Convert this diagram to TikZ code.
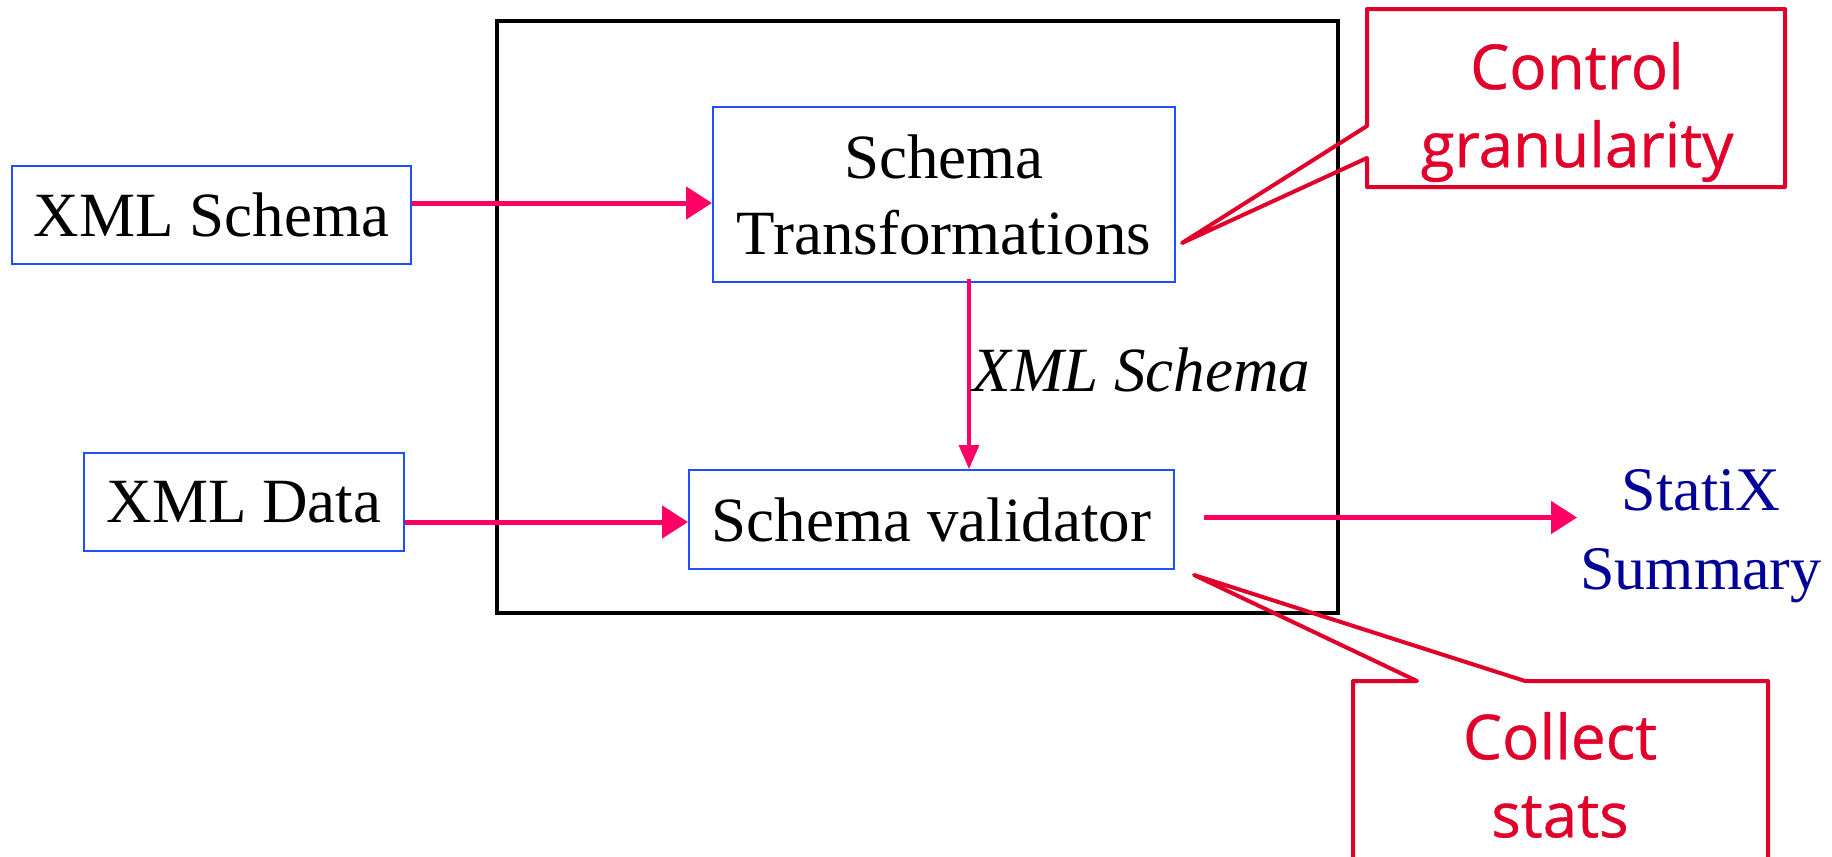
\documentclass[tikz,border=0pt]{standalone}
\usepackage{fontspec}
\setmainfont{Liberation Serif}
\newfontfamily\notefont[FakeBold=0.6]{Open Sans}
\usetikzlibrary{arrows.meta,calc}
\definecolor{boxblue}{HTML}{1F4FFF}
\definecolor{flowpink}{HTML}{FF0066}
\definecolor{notered}{HTML}{E0002A}
\definecolor{outblue}{HTML}{000099}
\begin{document}
\begin{tikzpicture}[x=0.5pt,y=-0.5pt,
  txt/.style={font=\fontsize{31.5}{38}\selectfont,align=center,inner sep=0pt},
  box/.style={txt,draw=boxblue,line width=1pt},
  frame/.style={draw=black,line width=1.75pt,inner sep=0pt},
  flow/.style={draw=flowpink,line width=2.5pt,-{Triangle[length=13pt,width=16pt]}},
  flowthin/.style={draw=flowpink,line width=1.6pt,-{Triangle[length=12pt,width=10pt]}},
  note/.style={text=notered,font=\notefont\fontsize{31}{39}\selectfont,align=center,inner sep=0pt},
  callout/.style={draw=notered,line width=2pt,line join=round}]
\useasboundingbox (0,0) rectangle (1832,857);
\clip (0,0) rectangle (1832,857);

% outer frame around the processing stages
\node[frame,minimum width=420.5pt,minimum height=296pt] (frame) at (917.5,317) {};

% inputs, stages and output
\node[box,minimum width=199.5pt,minimum height=49pt] (xs) at (211.5,215) {XML Schema};
\node[box,minimum width=231pt,minimum height=87.5pt] (st) at (944,194.5) {Schema\\Transformations};
\node[box,minimum width=160pt,minimum height=49pt] (xd) at (244,502) {XML Data};
\node[box,minimum width=242.5pt,minimum height=49.5pt] (sv) at (931.5,519.5) {Schema validator};
\node[txt,text=outblue,font=\fontsize{31}{39.5}\selectfont] (out) at (1701,536) {StatiX\\Summary};

% data flow
\coordinate (a1) at ([yshift=6pt]xs.east);
\draw[flow] (a1) -- (a1 -| st.west);
\coordinate (v1) at ([xshift=12.5pt,yshift=2pt]st.south);
\draw[flowthin] (v1) -- (v1 |- sv.north)
  node[txt,pos=0.5,anchor=west,xshift=1pt,yshift=2pt,font=\itshape\fontsize{31.5}{38}\selectfont] (lbl) {XML Schema};
\coordinate (a2) at ([yshift=-10pt]xd.east);
\draw[flow] (a2) -- (a2 -| sv.west);
\coordinate (a3) at ([xshift=14.5pt,yshift=1pt]sv.east);
\draw[flow] (a3) -- ([xshift=-1.5pt]a3 -| out.west);

% callouts
\node[note] (ctl) at (1577,112) {Control\\granularity};
\draw[callout] (1367,9) -- (1785,9) -- (1785,187) -- (1367,187) -- (1367,158)
  -- (1182,243) -- (1367,126) -- cycle;
\node[note] (col) at (1560,775) {Collect\\stats};
\draw[callout] (1353,900) -- (1353,681) -- (1417,681) -- (1194,575)
  -- (1525,681) -- (1768,681) -- (1768,900);
\end{tikzpicture}
\end{document}
